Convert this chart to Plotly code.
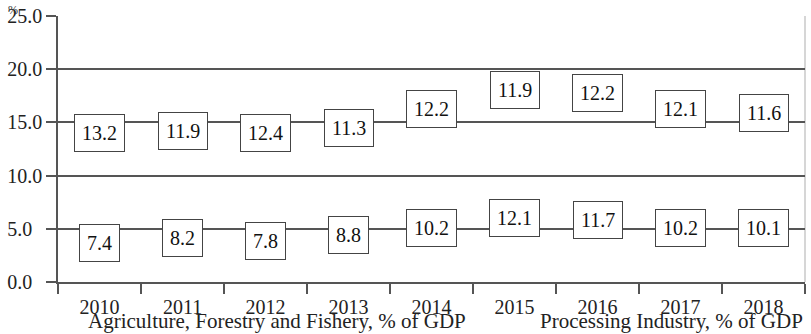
import plotly.graph_objects as go

years = ["2010", "2011", "2012", "2013", "2014", "2015", "2016", "2017", "2018"]
agriculture = [7.4, 8.2, 7.8, 8.8, 10.2, 12.1, 11.7, 10.2, 10.1]
processing = [13.2, 11.9, 12.4, 11.3, 12.2, 11.9, 12.2, 12.1, 11.6]
series_names = ["Agriculture, Forestry and Fishery, % of GDP",
                "Processing Industry, % of GDP"]
y_ticks = [0, 5, 10, 15, 20, 25]

FONT = "Liberation Serif"
FS = 20
LINE = "#555555"

# y labels are left-aligned: pad the short ones with no-break spaces
y_ticktext = [f"{v:.1f}" + "\u00a0\u00a0" * (4 - len(f"{v:.1f}")) for v in y_ticks]

fig = go.Figure()
for name, vals, lg in zip(series_names, [agriculture, processing], ["legend", "legend2"]):
    fig.add_trace(go.Bar(
        x=years, y=vals, name=name, legend=lg,
        marker=dict(color="rgba(0,0,0,0)", line=dict(width=0)),
        hoverinfo="x+y",
    ))

# boxed value labels centred in each stacked segment (x given as category index)
annotations = []
for i, yr in enumerate(years):
    base = 0.0
    for vals in (agriculture, processing):
        v = vals[i]
        annotations.append(dict(
            x=i, y=base + v / 2, xref="x", yref="y",
            text=f"{v:.1f}", showarrow=False,
            font=dict(family=FONT, size=FS, color="#111"),
            bgcolor="white", bordercolor="#444", borderwidth=1,
            borderpad=7,
        ))
        base += v

# unit mark in the top-left corner
annotations.append(dict(
    x=-0.07, y=1.055, xref="paper", yref="paper", xanchor="left", yanchor="top",
    text="%", showarrow=False,
    font=dict(family=FONT, size=12, color="#333"),
))

legend_common = dict(
    orientation="h", yanchor="middle", yref="container",
    font=dict(family=FONT, size=21, color="#222"),
    bgcolor="rgba(0,0,0,0)", itemclick=False, itemdoubleclick=False,
)

fig.update_layout(
    barmode="stack",
    width=811, height=334,
    margin=dict(l=58, r=6, t=16, b=52, autoexpand=False),
    paper_bgcolor="white", plot_bgcolor="white",
    font=dict(family=FONT, size=FS, color="#222"),
    showlegend=True,
    legend=dict(legend_common, x=48 / 811, xref="container", xanchor="left", y=14 / 334),
    legend2=dict(legend_common, x=500 / 811, xref="container", xanchor="left", y=14 / 334),
    annotations=annotations,
    bargap=0.4,
    shapes=[dict(type="line", xref="paper", yref="paper", x0=1, x1=1, y0=0, y1=1,
                 line=dict(color="#c8c8c8", width=1.5), layer="below")],
)

fig.update_xaxes(
    type="category", range=[-0.5, len(years) - 0.5],
    showline=True, linecolor=LINE, linewidth=1.5,
    ticks="outside", tickson="boundaries", ticklen=10, tickcolor=LINE, tickwidth=1.5,
    tickfont=dict(family=FONT, size=FS, color="#222"), tickangle=0,
    ticklabelstandoff=6,
    showgrid=False, mirror=False,
)
fig.update_yaxes(
    range=[0, 25], tickvals=y_ticks, ticktext=y_ticktext,
    showline=True, linecolor=LINE, linewidth=1.5, mirror=False,
    ticks="outside", ticklen=10, tickcolor=LINE, tickwidth=1.5,
    showgrid=True, gridcolor=LINE, gridwidth=1.5,
    tickfont=dict(family=FONT, size=FS, color="#222"),
    zeroline=False,
)

fig.write_html("out.html")
